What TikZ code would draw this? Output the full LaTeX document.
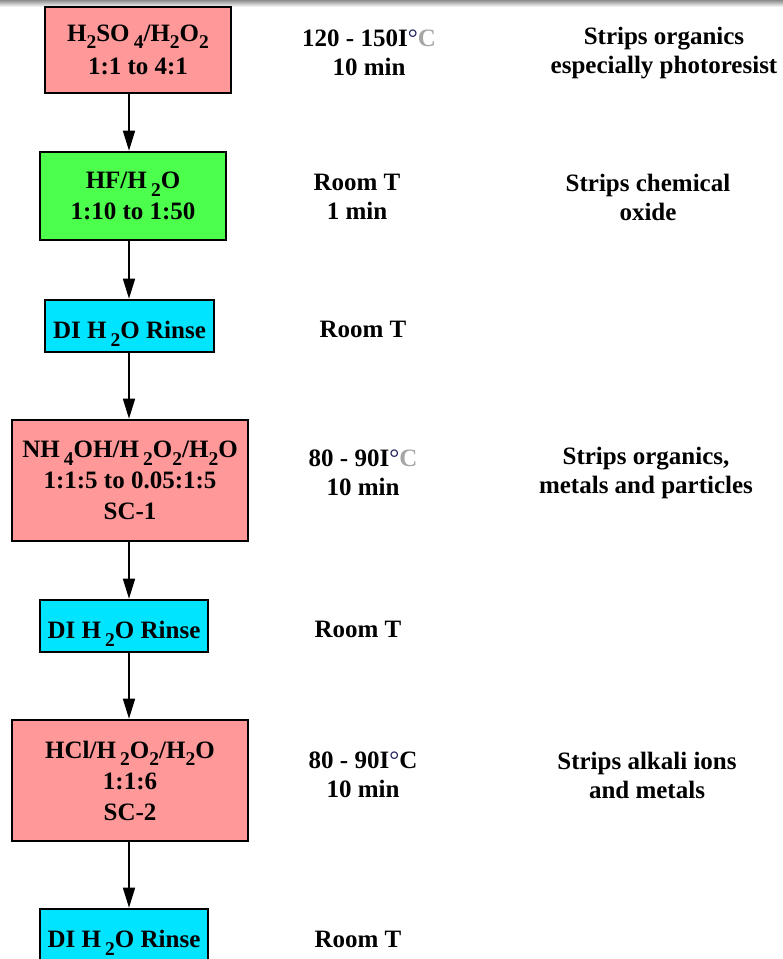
\documentclass[tikz,border=0pt]{standalone}
\usepackage{fontspec}
\setmainfont{Liberation Serif}
\usetikzlibrary{arrows.meta}
\definecolor{pinkbox}{RGB}{255,153,153}
\definecolor{greenbox}{RGB}{76,255,76}
\definecolor{cyanbox}{RGB}{0,228,255}
\definecolor{degblue}{RGB}{30,30,90}
\newcommand\sbs[1]{\raisebox{-0.3em}[\height][0pt]{\fontsize{19.5}{19.5}\selectfont #1}}
\newcommand\degc[1]{{\color{degblue}\mdseries\char"00B0}\textcolor{#1}{C}}
\newcommand\lowr[2]{\raisebox{-#1}[\height][\depth]{#2}}
\tikzset{
  txt/.style={font=\fontsize{25}{29}\selectfont\bfseries, align=center, inner sep=0pt},
  boxb/.style={font=\fontsize{25}{31}\selectfont\bfseries, align=center, draw=black, line width=2.6pt, inner sep=0pt},
  pinkb/.style={boxb, fill=pinkbox},
  greenb/.style={boxb, fill=greenbox},
  cyanb/.style={boxb, fill=cyanbox},
  flow/.style={line width=1.6pt, -{Triangle[width=12pt,length=20pt]}}
}
\begin{document}
\begin{tikzpicture}[x=1pt,y=-1pt]
\useasboundingbox (0,0) rectangle (783,959);
\clip (0,0) rectangle (783,959);
\shade[top color=black!45, bottom color=white] (0,0) rectangle (783,7);
\coordinate (ax) at (129,0);
% boxes
\node[pinkb, minimum width=186pt, minimum height=86pt] (b1) at (138,50) {\lowr{1.5pt}{\begin{tabular}{@{}c@{}}H\sbs{2}SO\,\sbs{4}/H\sbs{2}O\sbs{2}\\[2pt]1:1 to 4:1\end{tabular}}};
\node[greenb, minimum width=186pt, minimum height=88pt] (b2) at (133,196) {HF/H\,\sbs{2}O\\1:10 to 1:50};
\node[cyanb, minimum width=169pt, minimum height=52pt] (b3) at (129.5,326) {\lowr{4pt}{DI H\,\sbs{2}O Rinse}};
\node[pinkb, minimum width=236pt, minimum height=121pt] (b4) at (130,480.5) {NH\,\sbs{4}OH/H\,\sbs{2}O\sbs{2}/H\sbs{2}O\\1:1:5 to 0.05:1:5\\SC-1};
\node[cyanb, minimum width=168pt, minimum height=52pt] (b5) at (124,626) {\lowr{4pt}{DI H\,\sbs{2}O Rinse}};
\node[pinkb, minimum width=236pt, minimum height=121pt] (b6) at (130,780.5) {HCl/H\,\sbs{2}O\sbs{2}/H\sbs{2}O\\1:1:6\\SC-2};
\node[cyanb, minimum width=168pt, minimum height=52pt] (b7) at (124,935) {\lowr{4pt}{DI H\,\sbs{2}O Rinse}};
% arrows
\draw[flow] (b1.south -| ax) -- (b2.north -| ax);
\draw[flow] (b2.south -| ax) -- (b3.north -| ax);
\draw[flow] (b3.south -| ax) -- (b4.north -| ax);
\draw[flow] (b4.south -| ax) -- (b5.north -| ax);
\draw[flow] (b5.south -| ax) -- (b6.north -| ax);
\draw[flow] (b6.south -| ax) -- (b7.north -| ax);
% conditions
\node[txt] (c1) at (369,53) {120 - 150I\degc{black!35}\\10 min};
\node[txt] (c2) at (357,197) {Room T\\1 min};
\node[txt] (c3) at (363,329) {Room T};
\node[txt] (c4) at (363,473) {80 - 90I\degc{black!35}\\10 min};
\node[txt] (c5) at (358,629) {Room T};
\node[txt] (c6) at (363,775) {80 - 90I\degc{black}\\10 min};
\node[txt] (c7) at (358,939) {Room T};
% effects
\node[txt] (e1) at (664,53) {Strips organics\\especially photoresist};
\node[txt] (e2) at (648,197) {Strips chemical\\oxide};
\node[txt] (e4) at (646,473) {Strips organics,\\metals and particles};
\node[txt] (e6) at (647,775) {Strips alkali ions\\and metals};
\end{tikzpicture}
\end{document}
